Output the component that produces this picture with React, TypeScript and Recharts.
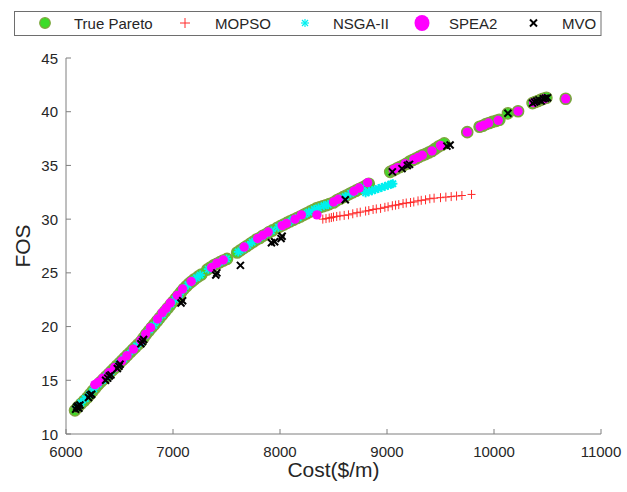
import React from 'react';
import { ScatterChart, Scatter, XAxis, YAxis } from 'recharts';

type P = [number, number];

const truePareto: P[] = [
  [6084, 12.2], [6110, 12.5], [6140, 12.8], [6170, 13.1], [6200, 13.4], [6225, 13.7], [6250, 14.0], [6275, 14.3],
  [6300, 14.6], [6325, 14.85], [6350, 15.1], [6375, 15.35], [6400, 15.6], [6425, 15.85], [6450, 16.1], [6475, 16.35],
  [6500, 16.6], [6525, 16.85], [6550, 17.1], [6575, 17.35], [6600, 17.6], [6625, 17.85], [6650, 18.1], [6675, 18.35],
  [6700, 18.6], [6725, 18.95], [6750, 19.3], [6775, 19.6], [6800, 19.9], [6825, 20.2], [6850, 20.5], [6875, 20.8],
  [6900, 21.1], [6925, 21.4], [6950, 21.7], [6975, 22.0], [7000, 22.3], [7025, 22.6], [7050, 22.9], [7075, 23.2],
  [7100, 23.5], [7125, 23.75], [7150, 24.0], [7175, 24.2], [7200, 24.4], [7235, 24.65], [7265, 24.85],
  [7320, 25.3], [7350, 25.5], [7380, 25.7], [7410, 25.85], [7440, 26.0], [7470, 26.15], [7505, 26.3],
  [7600, 26.9], [7630, 27.1], [7660, 27.3], [7690, 27.5], [7720, 27.7], [7750, 27.9], [7780, 28.1], [7810, 28.25],
  [7840, 28.45], [7870, 28.6], [7900, 28.8], [7930, 28.95],
  [7975, 29.2], [8005, 29.35], [8035, 29.5], [8065, 29.65], [8095, 29.8], [8125, 29.95], [8160, 30.1], [8190, 30.25],
  [8220, 30.4], [8250, 30.55], [8280, 30.7], [8310, 30.85], [8340, 31.0], [8370, 31.1], [8400, 31.2], [8430, 31.3],
  [8460, 31.4],
  [8500, 31.55], [8530, 31.75], [8560, 31.9], [8590, 32.05], [8620, 32.2], [8650, 32.35], [8680, 32.5], [8710, 32.65],
  [8740, 32.8], [8770, 32.95], [8800, 33.1], [8830, 33.3],
  [9030, 34.4], [9060, 34.55], [9090, 34.7], [9120, 34.85], [9150, 35.0], [9180, 35.15], [9210, 35.35], [9240, 35.5],
  [9270, 35.65], [9300, 35.8], [9330, 35.95], [9360, 36.05], [9390, 36.2], [9420, 36.35], [9450, 36.55], [9480, 36.75],
  [9510, 36.9], [9535, 37.05],
  [9750, 38.1],
  [9865, 38.6], [9895, 38.7], [9925, 38.85], [9955, 38.95], [9985, 39.05], [10020, 39.15], [10050, 39.25],
  [10130, 39.85], [10225, 40.05],
  [10360, 40.8], [10385, 40.9], [10410, 41.0], [10435, 41.1], [10460, 41.2], [10490, 41.3],
  [10670, 41.2],
];

const mopso: P[] = [
  [8400, 30.0], [8430, 30.05], [8460, 30.1], [8480, 30.15], [8500, 30.2], [8530, 30.25], [8560, 30.3], [8600, 30.35],
  [8640, 30.4], [8680, 30.5], [8720, 30.6], [8750, 30.65], [8800, 30.75], [8830, 30.8], [8870, 30.9], [8900, 30.95],
  [8940, 31.0], [8980, 31.1], [9010, 31.15], [9050, 31.25], [9080, 31.3], [9110, 31.35], [9150, 31.45], [9180, 31.5],
  [9220, 31.55], [9250, 31.6], [9290, 31.7], [9320, 31.75], [9360, 31.8], [9400, 31.9], [9440, 31.95], [9500, 32.0],
  [9550, 32.05], [9600, 32.1], [9650, 32.15], [9700, 32.2], [9790, 32.3],
];

const nsga2: P[] = [
  [6100, 12.5], [6140, 12.9], [6180, 13.3], [6220, 13.7], [6260, 14.2], [6300, 14.65], [6340, 15.0], [6380, 15.4],
  [6420, 15.8], [6460, 16.2], [6500, 16.6], [6540, 17.0], [6580, 17.4], [6620, 17.8], [6660, 18.2], [6700, 18.6],
  [6740, 19.2], [6780, 19.7], [6820, 20.1], [6860, 20.6], [6900, 21.1], [6940, 21.6], [6980, 22.1], [7020, 22.55],
  [7060, 23.0], [7100, 23.5], [7140, 23.9], [7180, 24.25], [7220, 24.55], [7255, 24.8],
  [7330, 25.35], [7370, 25.6], [7420, 25.9], [7460, 26.1], [7500, 26.3],
  [7610, 26.95], [7650, 27.2], [7700, 27.55], [7740, 27.85], [7790, 28.15], [7830, 28.4], [7880, 28.7], [7920, 28.9],
  [7985, 29.25], [8030, 29.5], [8080, 29.7], [8120, 29.95], [8170, 30.15], [8230, 30.45], [8270, 30.65], [8320, 30.9],
  [8360, 31.05], [8410, 31.25], [8450, 31.35], [8510, 31.6], [8560, 31.9], [8610, 32.1], [8660, 32.4], [8700, 32.6],
  [8760, 32.9],
  [8800, 32.45], [8830, 32.55], [8860, 32.65], [8890, 32.75], [8920, 32.85], [8950, 32.95], [8980, 33.05], [9010, 33.15],
  [9040, 33.25], [9055, 33.3],
];

const spea2: P[] = [
  [6270, 14.6], [6300, 14.8], [6345, 15.2], [6400, 15.7], [6455, 16.2], [6520, 16.8], [6570, 17.3], [6630, 17.9],
  [6700, 18.7], [6745, 19.3], [6790, 19.9], [6855, 20.7], [6900, 21.3], [6935, 21.7], [6975, 22.2], [7040, 22.9],
  [7090, 23.5], [7170, 24.2], [7360, 25.5], [7410, 25.9], [7470, 26.2], [7665, 27.4], [7790, 28.2], [7840, 28.5],
  [7890, 28.8], [8020, 29.4], [8060, 29.6], [8140, 30.0], [8200, 30.4], [8345, 30.4], [8500, 31.6], [8545, 31.85],
  [8690, 32.6], [8740, 32.9], [8820, 33.4], [9060, 34.6], [9100, 34.8], [9170, 35.15], [9250, 35.55], [9290, 35.75],
  [9330, 35.95], [9420, 36.35], [9500, 36.85], [9750, 38.1], [9870, 38.6], [9905, 38.75], [9950, 38.95], [10040, 39.2],
  [10225, 40.05], [10370, 40.85], [10470, 41.2], [10670, 41.2],
];

const mvo: P[] = [
  [6090, 12.3], [6100, 12.5], [6110, 12.6], [6120, 12.4], [6130, 12.7], [6210, 13.4], [6225, 13.6], [6240, 13.7],
  [6370, 15.0], [6390, 15.2], [6405, 15.4], [6420, 15.5], [6480, 16.1], [6495, 16.3], [6505, 16.5], [6700, 18.4],
  [6715, 18.6], [6725, 18.8], [7075, 22.2], [7090, 22.4], [7400, 24.8], [7410, 25.0], [7630, 25.7], [7920, 27.8],
  [7950, 27.9], [8010, 28.2], [8020, 28.4], [8610, 31.8], [9050, 34.4], [9140, 34.7], [9190, 35.0], [9210, 35.1],
  [9560, 36.8], [9590, 36.9], [10130, 39.85], [10360, 40.8], [10380, 40.9], [10400, 41.0], [10420, 41.1], [10440, 41.0],
  [10460, 41.2], [10480, 41.25], [10500, 41.3],
];

const xTicks = [6000, 7000, 8000, 9000, 10000, 11000];
const yTicks = [10, 15, 20, 25, 30, 35, 40, 45];
const seriesNames = ['True Pareto', 'MOPSO', 'NSGA-II', 'SPEA2', 'MVO'];

const toObj = (a: P[]) => a.map(([x, y]) => ({ x, y }));

const AXIS = '#7f7f7f';
const TEXT = '#262626';
const FONT = '"Liberation Sans", Arial, Helvetica, sans-serif';
const GREEN = '#3cdc28';
const GREEN_EDGE = '#7ea53e';
const RED = '#ff2a2a';
const CYAN = '#00f0f0';
const MAGENTA = '#ff00ff';

const GreenDot = (p: any) => (
  <circle cx={p.cx} cy={p.cy} r={5.6} fill={GREEN} stroke={GREEN_EDGE} strokeWidth={1.4} />
);
const MagentaDot = (p: any) => <circle cx={p.cx} cy={p.cy} r={4.7} fill={MAGENTA} />;
const RedPlus = (p: any) => (
  <g stroke={RED} strokeWidth={1}>
    <line x1={p.cx - 4} x2={p.cx + 4} y1={p.cy} y2={p.cy} />
    <line x1={p.cx} x2={p.cx} y1={p.cy - 4.5} y2={p.cy + 4.5} />
  </g>
);
const CyanStar = (p: any) => (
  <g stroke={CYAN} strokeWidth={1.9}>
    <line x1={p.cx - 4.5} x2={p.cx + 4.5} y1={p.cy} y2={p.cy} />
    <line x1={p.cx} x2={p.cx} y1={p.cy - 4.5} y2={p.cy + 4.5} />
    <line x1={p.cx - 3.2} x2={p.cx + 3.2} y1={p.cy - 3.2} y2={p.cy + 3.2} />
    <line x1={p.cx - 3.2} x2={p.cx + 3.2} y1={p.cy + 3.2} y2={p.cy - 3.2} />
  </g>
);
const BlackX = (p: any) => (
  <g stroke="#000" strokeWidth={2}>
    <line x1={p.cx - 3.5} x2={p.cx + 3.5} y1={p.cy - 3.5} y2={p.cy + 3.5} />
    <line x1={p.cx - 3.5} x2={p.cx + 3.5} y1={p.cy + 3.5} y2={p.cy - 3.5} />
  </g>
);

const XTick = (props: any) => {
  const { x, y, payload } = props;
  return (
    <g>
      <line x1={x} x2={x} y1={y} y2={y - 5} stroke={AXIS} strokeWidth={1} />
      <text x={x} y={y + 23} textAnchor="middle" fontSize={15} fill={TEXT} fontFamily={FONT}>
        {payload.value}
      </text>
    </g>
  );
};

const YTick = (props: any) => {
  const { x, y, payload } = props;
  return (
    <g>
      <line x1={x} x2={x + 5} y1={y} y2={y} stroke={AXIS} strokeWidth={1} />
      <text x={x - 8} y={y + 5.5} textAnchor="end" fontSize={15} fill={TEXT} fontFamily={FONT}>
        {payload.value}
      </text>
    </g>
  );
};

const XTitle = () => (
  <text x={333.5} y={477} textAnchor="middle" fontSize={21} fill={TEXT} fontFamily={FONT}>
    Cost($/m)
  </text>
);
const YTitle = () => (
  <text x={30} y={246} textAnchor="middle" fontSize={21} fill={TEXT} fontFamily={FONT} transform="rotate(-90 30 246)">
    FOS
  </text>
);

const LegendBox = () => {
  const cy = 23;
  return (
    <svg width={627} height={40} style={{ position: 'absolute', left: 0, top: 0 }}>
      <rect x={14.5} y={11.5} width={586.5} height={24} fill="#fff" stroke="#6e6e6e" strokeWidth={1} />
      <circle cx={45} cy={cy} r={5.3} fill={GREEN} stroke={GREEN_EDGE} strokeWidth={1.2} />
      <text x={74} y={cy + 5.5} fontSize={15} fill={TEXT} fontFamily={FONT}>{seriesNames[0]}</text>
      <g stroke={RED} strokeWidth={1}>
        <line x1={180} x2={190} y1={cy} y2={cy} />
        <line x1={185} x2={185} y1={cy - 5} y2={cy + 5} />
      </g>
      <text x={215} y={cy + 5.5} fontSize={15} fill={TEXT} fontFamily={FONT}>{seriesNames[1]}</text>
      <g stroke={CYAN} strokeWidth={1.2}>
        <line x1={301} x2={309} y1={cy} y2={cy} />
        <line x1={305} x2={305} y1={cy - 4} y2={cy + 4} />
        <line x1={302} x2={308} y1={cy - 3} y2={cy + 3} />
        <line x1={302} x2={308} y1={cy + 3} y2={cy - 3} />
      </g>
      <text x={333} y={cy + 5.5} fontSize={15} fill={TEXT} fontFamily={FONT}>{seriesNames[2]}</text>
      <ellipse cx={422} cy={cy} rx={7.5} ry={8} fill={MAGENTA} />
      <text x={449} y={cy + 5.5} fontSize={15} fill={TEXT} fontFamily={FONT}>{seriesNames[3]}</text>
      <g stroke="#000" strokeWidth={2}>
        <line x1={530} x2={537} y1={cy - 3.5} y2={cy + 3.5} />
        <line x1={530} x2={537} y1={cy + 3.5} y2={cy - 3.5} />
      </g>
      <text x={562} y={cy + 5.5} fontSize={15} fill={TEXT} fontFamily={FONT}>{seriesNames[4]}</text>
    </svg>
  );
};

export default function App() {
  return (
    <div style={{ position: 'absolute', left: 0, top: 0, width: 627, height: 492, background: '#fff' }}>
      <ScatterChart width={627} height={492} margin={{ top: 58, right: 26, bottom: 0, left: 0 }}>
        <XAxis
          type="number"
          dataKey="x"
          domain={[6000, 11000]}
          ticks={xTicks}
          height={58}
          stroke={AXIS}
          tickLine={false}
          tickSize={0}
          tickMargin={0}
          tick={<XTick />}
          label={<XTitle />}
          allowDataOverflow
        />
        <YAxis
          type="number"
          dataKey="y"
          domain={[10, 45]}
          ticks={yTicks}
          width={66}
          stroke={AXIS}
          tickLine={false}
          tickSize={0}
          tickMargin={0}
          tick={<YTick />}
          label={<YTitle />}
          allowDataOverflow
        />
        <Scatter name={seriesNames[0]} data={toObj(truePareto)} shape={GreenDot} isAnimationActive={false} />
        <Scatter name={seriesNames[1]} data={toObj(mopso)} shape={RedPlus} isAnimationActive={false} />
        <Scatter name={seriesNames[2]} data={toObj(nsga2)} shape={CyanStar} isAnimationActive={false} />
        <Scatter name={seriesNames[3]} data={toObj(spea2)} shape={MagentaDot} isAnimationActive={false} />
        <Scatter name={seriesNames[4]} data={toObj(mvo)} shape={BlackX} isAnimationActive={false} />
      </ScatterChart>
      <LegendBox />
    </div>
  );
}
